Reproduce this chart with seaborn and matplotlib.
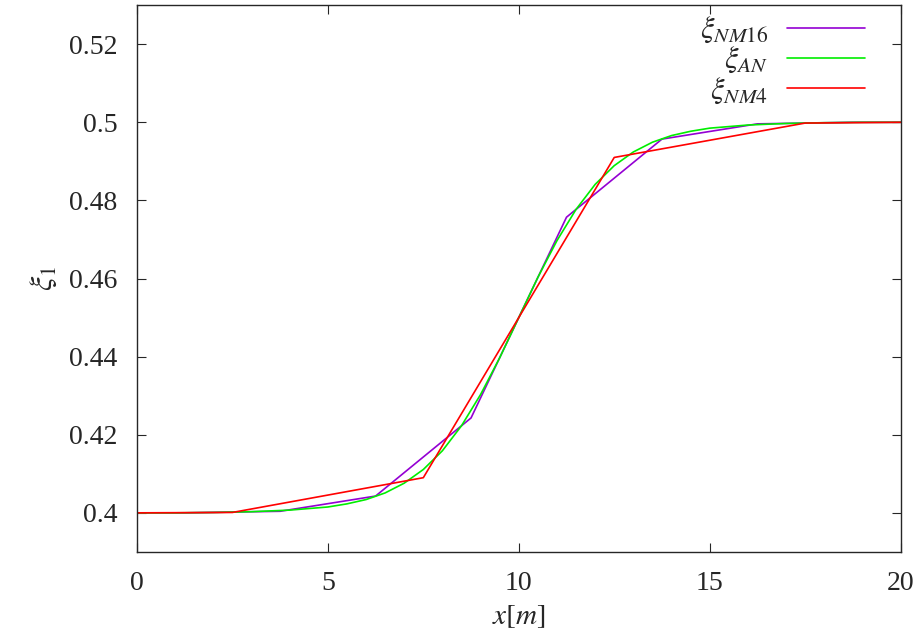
import pandas as pd
import seaborn as sns
import matplotlib.pyplot as plt

# numerical solution, 16 cells
x_nm16 = [0, 1.25, 3.75, 6.25, 8.75, 11.25, 13.75, 16.25, 18.75, 20]
xi_nm16 = [0.4, 0.4, 0.4004, 0.4043, 0.4243, 0.4757, 0.4957, 0.4996, 0.5, 0.5]

# analytical solution
x_an = [0, 1, 2, 3, 4, 5, 5.5, 6, 6.5, 7, 7.5, 8, 8.5, 9, 9.5, 10,
        10.5, 11, 11.5, 12, 12.5, 13, 13.5, 14, 14.5, 15, 16, 17, 18, 19, 20]
xi_an = [0.4, 0.4, 0.4001, 0.4003, 0.4007, 0.4015, 0.4023, 0.4034, 0.4051,
         0.4076, 0.4111, 0.4159, 0.4223, 0.4303, 0.4397, 0.45,
         0.4603, 0.4697, 0.4777, 0.4841, 0.4889, 0.4924, 0.4949, 0.4966,
         0.4977, 0.4985, 0.4993, 0.4997, 0.4999, 0.5, 0.5]

# numerical solution, 4 cells
x_nm4 = [0, 2.5, 7.5, 12.5, 17.5, 20]
xi_nm4 = [0.4, 0.4001, 0.409, 0.491, 0.4998, 0.5]

labels = [r'$\xi_{NM16}$', r'$\xi_{AN}$', r'$\xi_{NM4}$']
colors = ['#9400d3', '#00ee00', '#ff0000']

sns.set_style('ticks')
plt.rcParams['font.family'] = 'serif'
plt.rcParams['font.serif'] = ['Liberation Serif', 'DejaVu Serif']
plt.rcParams['mathtext.fontset'] = 'stix'
plt.rcParams['font.size'] = 20

fig = plt.figure(figsize=(9.19, 6.41), dpi=100)
ax = fig.add_axes([0.149, 0.139, 0.831, 0.853])

series = [(x_nm16, xi_nm16), (x_an, xi_an), (x_nm4, xi_nm4)]
for (xs, ys), lab, col in zip(series, labels, colors):
    df = pd.DataFrame({'x': xs, 'xi': ys})
    sns.lineplot(data=df, x='x', y='xi', ax=ax, color=col, lw=1.2, label=lab)

ax.set_xlim(0, 20)
ax.set_ylim(0.39, 0.53)
ax.set_xticks([0, 5, 10, 15, 20])
ax.set_yticks([0.4, 0.42, 0.44, 0.46, 0.48, 0.5, 0.52])
ax.set_yticklabels(['0.4', '0.42', '0.44', '0.46', '0.48', '0.5', '0.52'])
ax.tick_params(direction='in', length=6.5, width=0.8, top=True, right=True,
               labelsize=20, pad=14)
for s in ax.spines.values():
    s.set_linewidth(1.0)

ax.set_xlabel(r'$x[m]$', fontsize=21, labelpad=5)
ax.set_ylabel(r'$\xi_1$', fontsize=23, labelpad=7)

leg = ax.legend(loc='upper right', frameon=False, markerfirst=False,
                handlelength=2.55, fontsize=22, labelspacing=0.0,
                borderaxespad=0.0, handletextpad=0.6,
                bbox_to_anchor=(0.969, 1.004))

fig.savefig('out.png', dpi=100)
